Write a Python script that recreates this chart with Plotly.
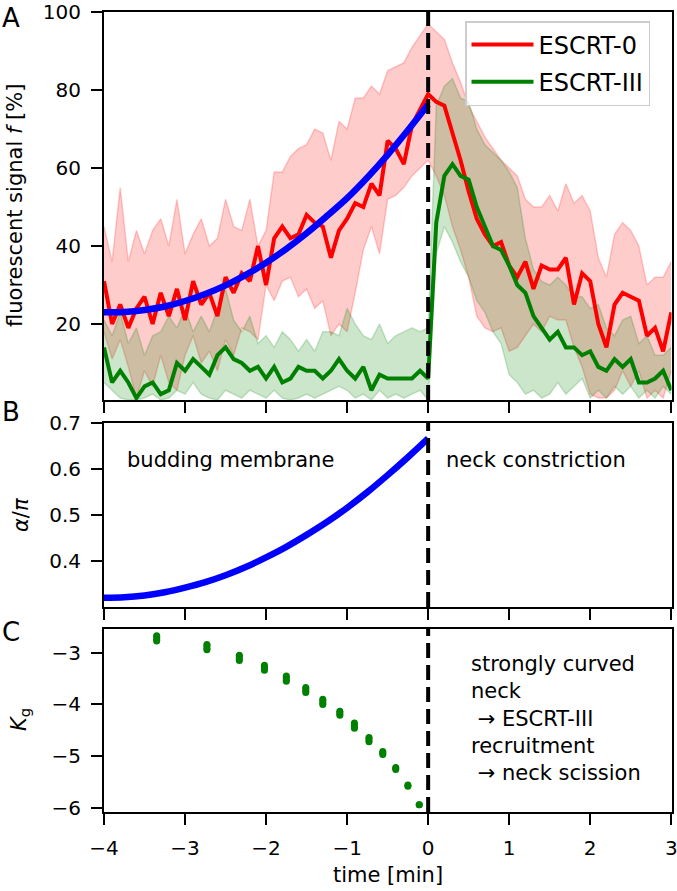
import plotly.graph_objects as go

# ---------------- data ----------------
time_min = [-4.0, -3.9, -3.8, -3.7, -3.6, -3.5, -3.4, -3.3, -3.2, -3.1,
            -3.0, -2.9, -2.8, -2.7, -2.6, -2.5, -2.4, -2.3, -2.2, -2.1,
            -2.0, -1.9, -1.8, -1.7, -1.6, -1.5, -1.4, -1.3, -1.2, -1.1,
            -1.0, -0.9, -0.8, -0.7, -0.6, -0.5, -0.4, -0.3, -0.2, -0.1,
            0.0, 0.1, 0.2, 0.3, 0.4, 0.5, 0.6, 0.7, 0.8, 0.9,
            1.0, 1.1, 1.2, 1.3, 1.4, 1.5, 1.6, 1.7, 1.8, 1.9,
            2.0, 2.1, 2.2, 2.3, 2.4, 2.5, 2.6, 2.7, 2.8, 2.9, 3.0]

escrt0_mean = [31, 20, 25, 19, 24, 27, 20, 28, 22, 29,
               21, 31, 25, 28, 22, 32, 28, 33, 31, 40,
               30, 42, 45, 42, 43, 48, 46, 45, 37, 44,
               47, 51, 50, 56, 53, 67, 65, 61, 71, 75,
               79, 77, 76, 69, 62, 54, 47, 43, 40, 41,
               35, 32, 36, 29, 35, 34, 34, 37, 25, 33,
               31, 20, 14, 25, 28, 27, 26, 17, 19, 13, 23]
escrt0_upper = [45, 36, 55, 36, 44, 38, 44, 47, 40, 52,
                38, 43, 47, 40, 42, 52, 45, 44, 52, 40,
                44, 59, 59, 63, 65, 66, 70, 69, 62, 72,
                70, 78, 78, 81, 79, 85, 86, 87, 91, 94,
                97, 95, 93, 87, 82, 76, 72, 68, 65, 62,
                60, 58, 52, 50, 50, 53, 49, 56, 51, 53,
                49, 37, 32, 43, 46, 44, 40, 30, 32, 32, 36]
escrt0_lower = [18, 11, 16, 9, 1, 8, 4, 12, 5, 3,
                12, 17, 10, 13, 8, 16, 12, 19, 18, 16,
                30, 26, 31, 32, 27, 29, 24, 26, 17, 20,
                18, 28, 39, 45, 38, 52, 53, 55, 58, 60,
                62, 58, 53, 45, 39, 32, 22, 19, 18, 19,
                13, 14, 17, 20, 18, 22, 21, 21, 14, 9,
                2, 1, 1, 3, 8, 4, 8, 1, 3, 1, 8]

escrt3_mean = [14, 5, 8, 5, 1, 4, 5, 2, 3, 10,
               8, 11, 9, 7, 12, 14, 11, 10, 8, 9,
               6, 9, 5, 6, 9, 8, 8, 6, 8, 11,
               8, 6, 9, 3, 7, 6, 6, 6, 6, 8,
               6, 46, 58, 61, 58, 57, 50, 45, 40, 39,
               35, 30, 28, 22, 19, 16, 18, 14, 14, 12,
               13, 9, 8, 11, 9, 11, 5, 5, 6, 8, 3]
escrt3_upper = [21, 17, 23, 15, 19, 12, 17, 18, 22, 19,
                24, 18, 22, 18, 24, 29, 21, 18, 22, 15,
                17, 14, 18, 16, 13, 16, 13, 18, 18, 17,
                24, 20, 17, 16, 20, 15, 17, 18, 19, 18,
                19, 76, 81, 83, 78, 77, 70, 66, 64, 62,
                59, 55, 42, 34, 31, 30, 32, 30, 27, 27,
                24, 25, 19, 17, 21, 22, 15, 17, 12, 12, 14]
escrt3_lower = [5, 3, 1, 0.5, 0.5, 1, 2, 0.5, 1, 3,
                2, 5, 2, 1, 0.5, 3, 2, 1, 3, 2,
                1, 3, 1, 0.5, 1, 2, 1, 2, 3, 4,
                3, 1, 2, 0.5, 3, 1, 2, 1, 2, 3,
                0.5, 38, 45, 41, 36, 32, 26, 23, 18, 15,
                7, 5, 2, 3, 1, 2, 5, 2, 4, 6,
                1, 3, 1, 4, 2, 4, 1, 3, 1, 4, 2]

fit_time = [-4.0, -3.75, -3.5, -3.25, -3.0, -2.75, -2.5, -2.25, -2.0,
            -1.75, -1.5, -1.25, -1.0, -0.75, -0.5, -0.25, 0.0]
fit_signal = [23.0, 23.1, 23.6, 24.5, 25.9, 27.7, 29.9, 32.6, 35.7,
              39.3, 43.3, 47.7, 52.3, 57.6, 63.4, 69.7, 76.3]
fit_alpha = [0.320, 0.321, 0.325, 0.332, 0.342, 0.354, 0.369, 0.387, 0.408,
             0.431, 0.457, 0.485, 0.516, 0.550, 0.587, 0.626, 0.667]

kg_time = [-3.35, -2.73, -2.33, -2.02, -1.75, -1.51, -1.30,
           -1.09, -0.91, -0.73, -0.56, -0.40, -0.25, -0.11]
kg_top = [-2.67, -2.84, -3.05, -3.24, -3.45, -3.67, -3.90,
          -4.13, -4.36, -4.64, -4.91, -5.22, -5.56, -5.94]
kg_bottom = [-2.77, -2.94, -3.15, -3.34, -3.55, -3.77, -4.00,
             -4.21, -4.46, -4.72, -4.97, -5.26, -5.58, -5.94]

x_ticks = [-4, -3, -2, -1, 0, 1, 2, 3]
a_ticks = [20, 40, 60, 80, 100]
b_ticks = [0.4, 0.5, 0.6, 0.7]
c_ticks = [-6, -5, -4, -3]

# ---------------- styling ----------------
W, H = 677, 891
FONT = "DejaVu Sans"
RED, GREEN, BLUE = "#ff0000", "#008000", "#0000ff"
RED_A, GREEN_A = "rgba(255,0,0,0.2)", "rgba(0,128,0,0.2)"


def px(x):
    return x / W


def py(y):
    return 1 - y / H


fig = go.Figure()

# Panel A bands
fig.add_trace(go.Scatter(x=time_min, y=escrt0_lower, mode="lines",
                         line=dict(color=RED_A, width=1.5), showlegend=False,
                         hoverinfo="skip", xaxis="x", yaxis="y"))
fig.add_trace(go.Scatter(x=time_min, y=escrt0_upper, mode="lines",
                         line=dict(color=RED_A, width=1.5), fill="tonexty",
                         fillcolor=RED_A, showlegend=False, hoverinfo="skip",
                         xaxis="x", yaxis="y"))
fig.add_trace(go.Scatter(x=time_min, y=escrt3_lower, mode="lines",
                         line=dict(color=GREEN_A, width=1.5), showlegend=False,
                         hoverinfo="skip", xaxis="x", yaxis="y"))
fig.add_trace(go.Scatter(x=time_min, y=escrt3_upper, mode="lines",
                         line=dict(color=GREEN_A, width=1.5), fill="tonexty",
                         fillcolor=GREEN_A, showlegend=False, hoverinfo="skip",
                         xaxis="x", yaxis="y"))
# Panel A means
fig.add_trace(go.Scatter(x=time_min, y=escrt0_mean, mode="lines", name="ESCRT-0",
                         legendgroup="a", line=dict(color=RED, width=4),
                         xaxis="x", yaxis="y"))
fig.add_trace(go.Scatter(x=time_min, y=escrt3_mean, mode="lines", name="ESCRT-III",
                         legendgroup="b", line=dict(color=GREEN, width=4),
                         xaxis="x", yaxis="y"))
fig.add_trace(go.Scatter(x=fit_time, y=fit_signal, mode="lines",
                         line=dict(color=BLUE, width=6.5, shape="spline"),
                         showlegend=False, xaxis="x", yaxis="y"))

# Panel B
fig.add_trace(go.Scatter(x=fit_time, y=fit_alpha, mode="lines",
                         line=dict(color=BLUE, width=6.5, shape="spline"),
                         showlegend=False, xaxis="x2", yaxis="y2"))

# Panel C
xs, ys = [], []
for t, a, b in zip(kg_time, kg_top, kg_bottom):
    xs += [t, t, None]
    ys += [a, b, None]
fig.add_trace(go.Scatter(x=xs, y=ys, mode="lines+markers",
                         line=dict(color=GREEN, width=7),
                         marker=dict(color=GREEN, size=7),
                         showlegend=False, xaxis="x3", yaxis="y3"))

axis_common = dict(showline=True, linecolor="black", linewidth=2, mirror=True,
                   ticks="outside", ticklen=11, tickwidth=2, tickcolor="black",
                   showgrid=False, zeroline=False, automargin=False,
                   tickfont=dict(family=FONT, size=20, color="black"))
xdom = [px(104), px(671.5)]
xrange = [-4, 3.003]

fig.update_layout(
    width=W, height=H, autosize=False,
    margin=dict(l=0, r=0, t=0, b=0, pad=0),
    paper_bgcolor="white", plot_bgcolor="white",
    font=dict(family=FONT, size=20, color="black"),
    xaxis=dict(domain=xdom, range=xrange, tickvals=x_ticks, showticklabels=False,
               anchor="y", **axis_common),
    xaxis2=dict(domain=xdom, range=xrange, tickvals=x_ticks, showticklabels=False,
                anchor="y2", **axis_common),
    xaxis3=dict(domain=xdom, range=xrange, tickvals=x_ticks, anchor="y3",
                ticklabelstandoff=6, ticklabeloverflow="allow", **axis_common),
    yaxis=dict(domain=[py(400), py(12)], range=[0.5, 100.05], tickvals=a_ticks,
               anchor="x", ticklabelstandoff=6, **axis_common),
    yaxis2=dict(domain=[py(607), py(423)], range=[0.3, 0.7005], tickvals=b_ticks,
                tickformat=".1f", anchor="x2", ticklabelstandoff=6, **axis_common),
    yaxis3=dict(domain=[py(812), py(629)], range=[-6.08, -2.54], tickvals=c_ticks,
                anchor="x3", ticklabelstandoff=6, **axis_common),
    legend=dict(x=px(465), y=py(21), xanchor="left", yanchor="top",
                bgcolor="rgba(255,255,255,0.8)", bordercolor="#cccccc",
                borderwidth=1.5, font=dict(family=FONT, size=24),
                traceorder="grouped", tracegroupgap=3, itemwidth=62),
    showlegend=True,
)

# dashed vertical lines at t = 0
for xr, yr in [("x", "y domain"), ("x2", "y2 domain"), ("x3", "y3 domain")]:
    fig.add_shape(type="line", xref=xr, yref=yr, x0=0, x1=0, y0=0, y1=1,
                  line=dict(color="black", width=4, dash="15px,7px"), layer="above")

ann = []


def text(x, y, s, size=21, xanchor="center", yanchor="middle", angle=0, align="center"):
    ann.append(dict(x=px(x), y=py(y), xref="paper", yref="paper", text=s,
                    showarrow=False, xanchor=xanchor, yanchor=yanchor,
                    textangle=angle, align=align,
                    font=dict(family=FONT, size=size, color="black")))


# panel letters
text(11, 18, "A", size=26)
text(11, 412, "B", size=26)
text(11, 632, "C", size=26)
# y-axis titles
text(15, 206, "fluorescent signal <i>f</i> [%]", angle=-90)
text(21, 515, "<i>α</i>/<i>π</i>", angle=-90)
text(20, 720, "<i>K</i><sub>g</sub>", angle=-90)
# x-axis title
text(388, 875, "time [min]")
# in-panel texts
text(125, 460, "budding membrane", xanchor="left")
text(444, 460, "neck constriction", xanchor="left")
text(469, 718, "strongly curved<br>neck<br> → ESCRT-III<br>recruitment<br> → neck scission",
     xanchor="left", align="left")

fig.update_layout(annotations=ann)

fig.write_html(
    "out.html",
    config={"displayModeBar": False},
    post_script="document.documentElement.style.margin='0';"
                "document.body.style.margin='0';"
                "document.body.style.overflow='hidden';",
)
